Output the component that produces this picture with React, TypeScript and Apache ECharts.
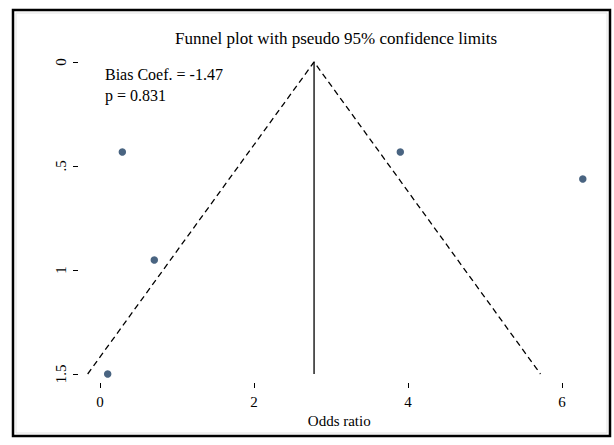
import React, { useEffect, useRef } from "react";
import * as echarts from "echarts";

// Study-level data
const oddsRatios = [0.1, 0.29, 0.705, 3.9, 6.27];
const standardErrors = [1.5, 0.433, 0.952, 0.433, 0.5625];

// Pooled estimate and pseudo 95% confidence limits
const pooledEstimate = 2.78;
const funnelX = [-0.16, 2.78, 5.72];
const funnelSE = [1.5, 0, 1.5];
const verticalSE = [0, 1.5];

// Tick values and labels
const xTicks = [0, 2, 4, 6];
const yTicks = [0, 0.5, 1, 1.5];
const yTickLabels = ["0", ".5", "1", "1.5"];

const titleText = "Funnel plot with pseudo 95% confidence limits";
const biasText = "Bias Coef. = -1.47";
const pText = "p = 0.831";
const xAxisName = "Odds ratio";

const FONT = "Liberation Serif";

export default function App() {
  const ref = useRef<HTMLDivElement>(null);

  useEffect(() => {
    if (!ref.current) return;
    const chart = echarts.init(ref.current, undefined, { renderer: "svg" });

    const xMin = -0.2857;
    const xMax = 6.5;
    const yMin = -0.05;
    const yMax = 1.5433;

    chart.setOption({
      animation: false,
      backgroundColor: "#ffffff",
      textStyle: { fontFamily: FONT },
      grid: {
        left: 78,
        top: 51.6,
        width: 522.5,
        height: 331.4,
        containLabel: false,
      },
      xAxis: {
        type: "value",
        min: xMin,
        max: xMax,
        axisLine: { show: false, onZero: false },
        splitLine: { show: false },
        axisTick: {
          show: true,
          length: 5,
          customValues: xTicks,
          lineStyle: { color: "#000", width: 1 },
        },
        axisLabel: {
          customValues: xTicks,
          margin: 11,
          color: "#000",
          fontFamily: FONT,
          fontSize: 15,
        },
        name: xAxisName,
        nameLocation: "middle",
        nameGap: 25,
        nameTextStyle: { color: "#000", fontFamily: FONT, fontSize: 15 },
      },
      yAxis: {
        type: "value",
        inverse: true,
        min: yMin,
        max: yMax,
        axisLine: { show: false, onZero: false },
        splitLine: { show: false },
        axisTick: {
          show: true,
          length: 5,
          customValues: yTicks,
          lineStyle: { color: "#000", width: 1 },
        },
        axisLabel: {
          customValues: yTicks,
          rotate: 90,
          margin: 10,
          color: "#000",
          fontFamily: FONT,
          fontSize: 15,
          formatter: (v: number) => {
            const i = yTicks.findIndex((t) => Math.abs(t - v) < 1e-6);
            return i >= 0 ? yTickLabels[i] : "";
          },
        },
      },
      graphic: [
        {
          type: "rect",
          shape: { x: 13, y: 10, width: 597, height: 426 },
          style: { fill: "none", stroke: "#000", lineWidth: 2.5 },
          silent: true,
        },
        {
          type: "rect",
          shape: { x: 16, y: 13, width: 591, height: 420 },
          style: { fill: "none", stroke: "#e4e4e4", lineWidth: 1 },
          silent: true,
        },
        {
          type: "text",
          x: 336,
          y: 38,
          style: {
            text: titleText,
            fill: "#000",
            fontFamily: FONT,
            fontSize: 17,
            align: "center",
            verticalAlign: "middle",
          },
        },
        {
          type: "text",
          x: 105,
          y: 74,
          style: {
            text: biasText,
            fill: "#000",
            fontFamily: FONT,
            fontSize: 16,
            align: "left",
            verticalAlign: "middle",
          },
        },
        {
          type: "text",
          x: 105,
          y: 95,
          style: {
            text: pText,
            fill: "#000",
            fontFamily: FONT,
            fontSize: 16,
            align: "left",
            verticalAlign: "middle",
          },
        },
      ],
      series: [
        {
          type: "line",
          data: funnelX.map((x, i) => [x, funnelSE[i]]),
          symbol: "none",
          lineStyle: { color: "#000", width: 1.3, type: [6, 4] },
          silent: true,
          z: 2,
        },
        {
          type: "line",
          data: verticalSE.map((s) => [pooledEstimate, s]),
          symbol: "none",
          lineStyle: { color: "#000", width: 1.3, type: "solid" },
          silent: true,
          z: 2,
        },
        {
          type: "scatter",
          data: oddsRatios.map((x, i) => [x, standardErrors[i]]),
          symbol: "circle",
          symbolSize: 7.5,
          itemStyle: { color: "#1c3d62" },
          z: 3,
        },
      ],
    });

    return () => chart.dispose();
  }, []);

  return (
    <div
      ref={ref}
      style={{ position: "fixed", left: 0, top: 0, width: 614, height: 445 }}
    />
  );
}
